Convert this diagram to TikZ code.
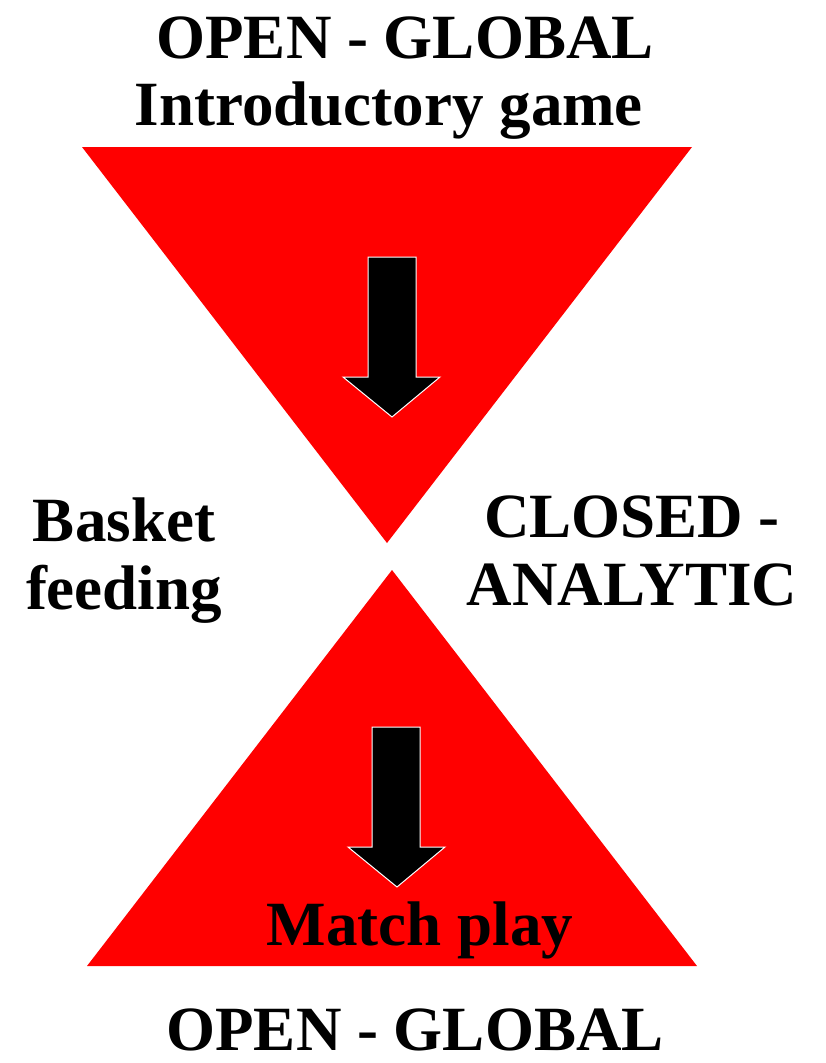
\documentclass[tikz,border=0pt]{standalone}
\usepackage{fontspec}
\setmainfont{Liberation Serif}
\usepackage{tikz}
\usetikzlibrary{positioning}

\begin{document}
\begin{tikzpicture}[x=1pt,y=-1pt,
  word/.style = {anchor=base, inner sep=0pt, font=\fontsize{63}{63}\selectfont\bfseries},
  funnel/.style = {fill=red, draw=none},
  downarrow/.style = {fill=black, draw=white, line width=1pt, line join=miter},]
\useasboundingbox (0,0) rectangle (825,1063);
%Drawing the two triangles
\fill[funnel] (82,147) -- (692,147) -- (387,543) -- cycle;
\fill[funnel] (392,570) -- (697,966) -- (87,966) -- cycle;
%Drawing the arrows
\draw[downarrow] (368,257) -- (416,257) -- (416,377) -- (440,377) -- (392,417) -- (343,377) -- (368,377) -- cycle;
\draw[downarrow] (372,727) -- (420,727) -- (420,847) -- (445,847) -- (397,887) -- (348,847) -- (372,847) -- cycle;
%Labels
\node (top1) at (405,58)[word] {OPEN - GLOBAL};
\node (top2) at (389,125)[word] {Introductory game};
\node (left1) at (124,541)[word] {Basket};
\node (left2) at (124,609)[word] {feeding};
\node (right1) at (632,537)[word] {CLOSED -};
\node (right2) at (632,605)[word] {ANALYTIC};
\node (match) at (420,945)[word] {Match play};
\node (bottom) at (415,1050)[word] {OPEN - GLOBAL};
\end{tikzpicture}
\end{document}
